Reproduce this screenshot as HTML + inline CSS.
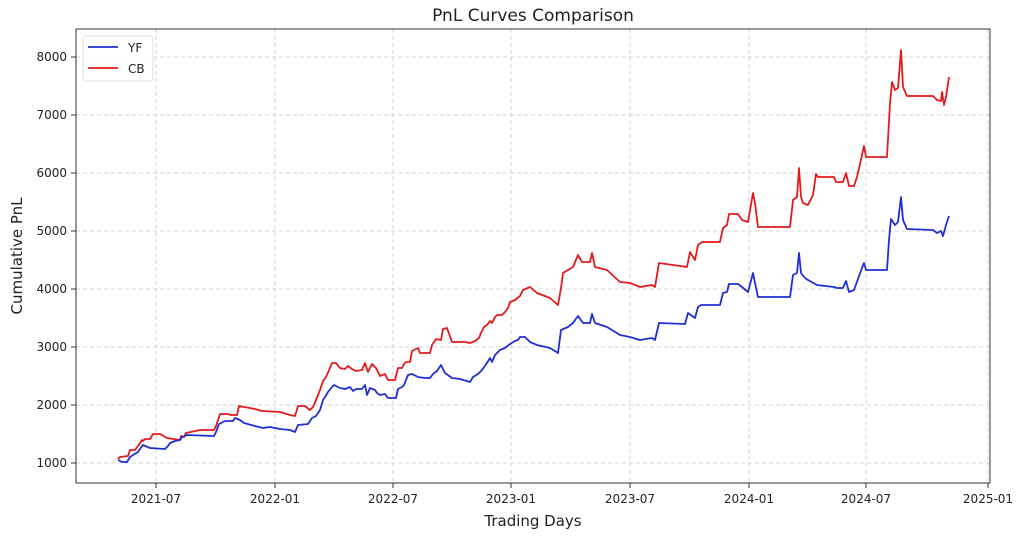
<!DOCTYPE html>
<html><head><meta charset="utf-8"><style>body{margin:0;background:#fff}svg{display:block;font-family:"DejaVu Sans","Liberation Sans",sans-serif}</style></head>
<body><svg width="1024" height="538" viewBox="0 0 1024 538">
<rect width="1024" height="538" fill="#fff"/>
<g stroke="#c8c8c8" stroke-width="0.8" stroke-dasharray="4,3">
<line x1="156" y1="29" x2="156" y2="483"/><line x1="275" y1="29" x2="275" y2="483"/><line x1="393" y1="29" x2="393" y2="483"/><line x1="511" y1="29" x2="511" y2="483"/><line x1="630" y1="29" x2="630" y2="483"/><line x1="749" y1="29" x2="749" y2="483"/><line x1="866" y1="29" x2="866" y2="483"/><line x1="988" y1="29" x2="988" y2="483"/>
<line x1="76" y1="463" x2="990" y2="463"/><line x1="76" y1="405" x2="990" y2="405"/><line x1="76" y1="347" x2="990" y2="347"/><line x1="76" y1="289" x2="990" y2="289"/><line x1="76" y1="231" x2="990" y2="231"/><line x1="76" y1="173" x2="990" y2="173"/><line x1="76" y1="115" x2="990" y2="115"/><line x1="76" y1="57" x2="990" y2="57"/>
</g>
<polyline fill="none" stroke="#e31a1c" stroke-width="1.8" stroke-linejoin="round" points="118,459 120,457 128,456 130,450 135,450 138,446 142,440 143,441 145,439 150,439 153,434 160,434 167,438 180,440 181,436 184,437 186,433 200,430 214,430 216,426 218,420 220,414 228,414 231,415 237,415 239,406 255,409 262,411 280,412 290,415 295,416 298,406 305,406 310,410 313,407 316,400 318,395 320,390 323,381 326,377 330,368 332,363 336,363 340,368 345,369 348,366 352,369 356,371 362,370 365,363 368,372 372,364 376,368 380,376 385,374 388,380 395,380 398,368 402,368 404,364 406,362 410,362 412,351 418,348 420,353 430,353 432,345 436,339 441,340 443,329 447,328 452,342 465,342 470,343 475,341 479,338 481,333 484,327 487,325 490,321 492,323 495,317 497,315 502,315 505,312 508,308 510,302 515,300 520,296 523,290 530,287 537,293 550,298 558,305 561,288 563,273 568,270 573,267 578,255 582,262 590,262 592,253 595,267 607,270 620,282 630,283 640,287 652,285 655,287 659,263 687,267 690,252 695,260 698,245 702,242 720,242 723,228 727,225 729,214 738,214 742,220 748,222 753,193 755,203 758,227 790,227 793,200 797,197 799,168 801,197 803,203 808,205 813,195 816,174 818,177 834,177 836,182 843,182 846,173 849,186 854,186 857,177 862,155 864,146 866,157 887,157 890,103 892,82 895,90 898,88 901,50 903,87 907,96 933,96 937,100 941,101 942,92 944,105 946,97 949,77"/>
<polyline fill="none" stroke="#1f2fd6" stroke-width="1.8" stroke-linejoin="round" points="118,460 122,462 127,462 130,457 133,455 138,452 142,446 143,445 150,448 165,449 168,446 170,443 175,441 180,440 182,437 185,436 187,435 214,436 216,432 219,424 225,421 233,421 235,418 240,420 244,423 255,426 263,428 270,427 280,429 290,430 295,432 298,425 308,424 312,418 316,416 320,410 323,400 325,397 328,392 332,387 334,385 340,388 345,389 350,387 353,391 356,389 362,389 365,385 367,395 370,388 375,390 377,393 380,395 385,394 388,398 396,398 398,389 402,387 404,385 408,375 412,374 418,377 425,378 430,378 433,374 437,371 441,365 445,373 452,378 460,379 470,382 473,377 478,374 482,370 487,363 490,358 492,362 495,355 500,350 505,348 510,344 515,341 518,340 520,337 525,337 530,342 537,345 550,348 558,353 561,330 568,327 573,323 578,316 583,323 590,323 592,314 595,323 607,327 620,335 630,337 640,340 652,338 655,340 659,323 685,324 688,313 695,318 698,307 701,305 720,305 723,293 727,292 729,284 738,284 742,287 748,292 753,273 755,283 758,297 790,297 793,275 797,273 799,253 801,273 805,278 808,280 817,285 834,287 837,288 843,288 846,281 849,292 854,290 858,279 862,268 864,263 866,270 887,270 889,240 891,219 895,225 898,222 901,197 903,220 907,229 933,230 937,233 941,231 943,236 946,225 949,216"/>
<rect x="76" y="29" width="914" height="454" fill="none" stroke="#333" stroke-width="1"/>
<g stroke="#333" stroke-width="1">
<line x1="156" y1="483" x2="156" y2="488"/><line x1="275" y1="483" x2="275" y2="488"/><line x1="393" y1="483" x2="393" y2="488"/><line x1="511" y1="483" x2="511" y2="488"/><line x1="630" y1="483" x2="630" y2="488"/><line x1="749" y1="483" x2="749" y2="488"/><line x1="866" y1="483" x2="866" y2="488"/><line x1="988" y1="483" x2="988" y2="488"/>
<line x1="71" y1="463" x2="76" y2="463"/><line x1="71" y1="405" x2="76" y2="405"/><line x1="71" y1="347" x2="76" y2="347"/><line x1="71" y1="289" x2="76" y2="289"/><line x1="71" y1="231" x2="76" y2="231"/><line x1="71" y1="173" x2="76" y2="173"/><line x1="71" y1="115" x2="76" y2="115"/><line x1="71" y1="57" x2="76" y2="57"/>
</g>
<g font-size="12" fill="#222" text-anchor="middle">
<text x="156" y="503">2021-07</text><text x="275" y="503">2022-01</text><text x="393" y="503">2022-07</text><text x="511" y="503">2023-01</text><text x="630" y="503">2023-07</text><text x="749" y="503">2024-01</text><text x="866" y="503">2024-07</text><text x="988" y="503">2025-01</text>
</g>
<g font-size="12" fill="#222" text-anchor="end">
<text x="67" y="467">1000</text><text x="67" y="409">2000</text><text x="67" y="351">3000</text><text x="67" y="293">4000</text><text x="67" y="235">5000</text><text x="67" y="177">6000</text><text x="67" y="119">7000</text><text x="67" y="61">8000</text>
</g>
<text x="533" y="21" font-size="17" text-anchor="middle" fill="#222">PnL Curves Comparison</text>
<text x="533" y="526" font-size="15" text-anchor="middle" fill="#222">Trading Days</text>
<text transform="translate(22,256) rotate(-90)" font-size="15" text-anchor="middle" fill="#222">Cumulative PnL</text>
<rect x="83" y="36" width="70" height="45" rx="3" fill="#fff" fill-opacity="0.85" stroke="#ddd"/>
<line x1="88" y1="47" x2="118" y2="47" stroke="#1f2fd6" stroke-width="1.8"/><text x="128" y="52" font-size="12" fill="#222">YF</text>
<line x1="88" y1="68" x2="118" y2="68" stroke="#e31a1c" stroke-width="1.8"/><text x="128" y="73" font-size="12" fill="#222">CB</text>
</svg></body></html>
